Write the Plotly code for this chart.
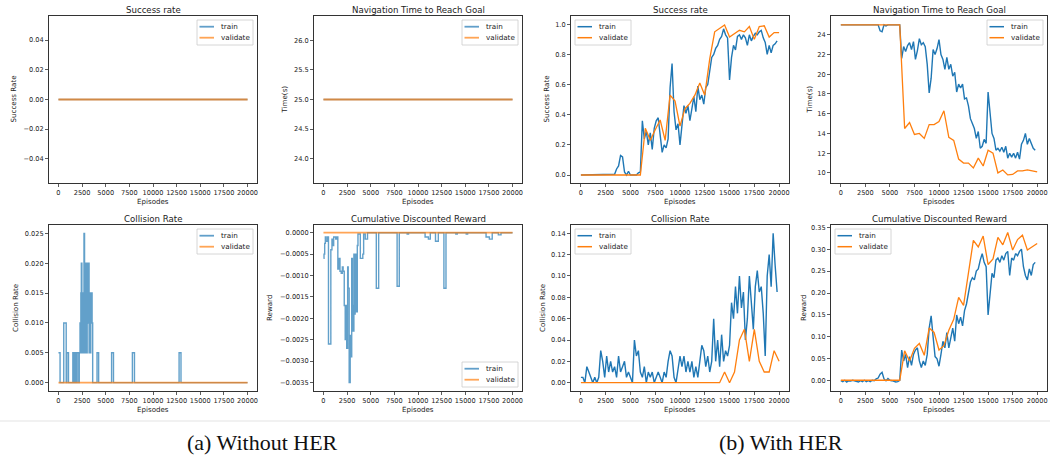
import plotly.graph_objects as go

W, H = 1050, 461

# ---------------- data ----------------
train_x = list(range(0, 20000, 200))
val_x = list(range(0, 20001, 500))
flat_x = [0, 20000]

x_ticks = [0, 2500, 5000, 7500, 10000, 12500, 15000, 17500, 20000]
x_tick_text = ["0", "2500", "5000", "7500", "10000", "12500", "15000", "17500", "20000"]

# (a) Without HER
succ_nohe_train = [0.0, 0.0]
succ_nohe_val = [0.0, 0.0]
nav_nohe_train = [25.0, 25.0]
nav_nohe_val = [25.0, 25.0]
coll_nohe_val = [0.0, 0.0]
rew_nohe_val = [0.0, 0.0]

coll_nohe_train_x = [0, 170, 560, 820, 880, 1060, 1520, 1660, 1780, 1900, 1980, 2150,
                     2200, 2280, 2330, 2370, 2420, 2480, 2520, 2580, 2650, 2700, 2760, 2820,
                     2860, 2920, 2980, 3040, 3120, 3180, 3240, 3300, 3380, 3420, 3560, 3620,
                     4080, 4250, 5620, 5820, 7820, 8040, 12760, 12960, 20000]
coll_nohe_train = [0.005, 0.0, 0.01, 0.0, 0.005, 0.0, 0.005, 0.0, 0.005, 0.0, 0.005, 0.0,
                   0.005, 0.01, 0.005, 0.015, 0.02, 0.005, 0.015, 0.01, 0.005, 0.025, 0.02, 0.005,
                   0.02, 0.015, 0.005, 0.02, 0.01, 0.02, 0.005, 0.015, 0.005, 0.015, 0.01, 0.0,
                   0.005, 0.0, 0.005, 0.0, 0.005, 0.0, 0.005, 0.0, 0.0]

rew_nohe_train_x = [0, 60, 130, 200, 290, 450, 530, 780, 900, 1000, 1080, 1300, 1450, 1520,
                    1660, 1750, 1880, 2000, 2080, 2200, 2300, 2400, 2460, 2560, 2620, 2720,
                    2830, 2900, 2990, 3060, 3130, 3220, 3280, 3350, 3440, 3580, 3650, 3900,
                    4160, 4250, 4420, 4660, 5590, 5840, 7790, 8020, 8850, 9000, 10750, 11100,
                    11300, 11850, 12150, 12740, 12960, 14000, 14150, 15100, 15250, 17200,
                    17550, 17850, 18500, 18780, 20000]
rew_nohe_train = [-0.0006, -0.0005, -0.00025, -0.0001, -0.0002, -0.0001, -0.0026, -0.0004,
                  -0.00015, -0.0003, -0.0001, -0.00015, -0.0001, -0.00085, -0.0006, -0.0009,
                  -0.00095, -0.0008, -0.0009, -0.0017, -0.0025, -0.0017, -0.0027, -0.0008,
                  -0.0013, -0.0035, -0.0024, -0.0029, -0.0006, -0.0017, -0.0023, -0.0005,
                  -0.0019, -0.0005, -0.00185, -0.0003, -0.00003, -0.0006, -0.0005, -0.00003,
                  -0.00015, 0.0, -0.0013, 0.0, -0.00125, 0.0, -0.00003, 0.0, -0.0001, -0.00015,
                  0.0, -0.0002, 0.0, -0.0013, 0.0, -0.00003, 0.0, -0.00003, 0.0, -0.0001,
                  -0.00015, 0.0, -0.00005, 0.0, 0.0]

# (b) With HER
succ_her_train = [0, 0, 0, 0, 0, 0, 0, 0, 0, 0,
                  0, 0, 0, 0, 0, 0, 0, 0.005, 0.04, 0.06,
                  0.13, 0.12, 0.02, 0.0, 0.025, 0.0, 0, 0, 0, 0.015,
                  0.02, 0.36, 0.24, 0.29, 0.20, 0.28, 0.17, 0.31, 0.36, 0.38,
                  0.27, 0.15, 0.20, 0.18, 0.24, 0.58, 0.74, 0.42, 0.30, 0.34,
                  0.20, 0.36, 0.46, 0.41, 0.46, 0.36, 0.44, 0.52, 0.42, 0.59,
                  0.50, 0.53, 0.47, 0.58, 0.60, 0.71, 0.78, 0.80, 0.84, 0.86,
                  0.90, 0.92, 0.97, 0.93, 0.91, 0.63, 0.78, 0.86, 0.83, 0.92,
                  0.93, 0.90, 0.93, 0.91, 0.86, 0.93, 0.89, 0.92, 0.94, 0.93,
                  0.95, 0.96, 0.91, 0.88, 0.80, 0.86, 0.81, 0.86, 0.87, 0.89]
succ_her_val = [0, 0, 0, 0, 0, 0, 0, 0, 0, 0, 0, 0, 0,
                0.31, 0.23, 0.30, 0.365, 0.23, 0.53, 0.49, 0.325, 0.44, 0.475, 0.53, 0.61,
                0.53, 0.77, 0.95, 0.97, 0.995, 0.915, 0.935, 0.96, 0.95, 0.985, 0.90, 0.985,
                0.99, 0.915, 0.945, 0.945]

nav_her_train = [25, 25, 25, 25, 25, 25, 25, 25, 25, 25,
                 25, 25, 25, 25, 25, 25, 25, 25, 25, 25,
                 24.4, 24.3, 25, 24.9, 25, 25, 25, 25, 25, 25,
                 25, 21.6, 22.8, 22.3, 22.9, 23.2, 22.5, 23.3, 21.5, 22.4,
                 23.6, 23.0, 23.2, 22.8, 21.0, 18.1, 19.6, 22.5, 22.0, 22.6,
                 23.5, 22.0, 21.5, 20.5, 21.7, 20.5, 21.0, 19.8, 20.2, 18.2,
                 19.0, 18.6, 19.0, 17.5, 17.6, 16.8, 15.5, 15.0, 14.5, 13.5,
                 14.2, 12.5, 12.7, 13.4, 13.0, 18.2, 16.0, 14.0, 13.5, 12.3,
                 12.5, 12.2, 12.6, 12.1, 12.7, 11.5, 12.0, 11.6, 12.0, 11.5,
                 12.1, 11.4, 12.9, 13.3, 14.0, 12.9, 13.5, 13.0, 12.5, 12.3]
nav_her_val = [25, 25, 25, 25, 25, 25, 25, 25, 25, 25, 25, 25, 25,
               14.5, 15.1, 13.9, 14.0, 13.5, 14.9, 14.9, 15.2, 16.3, 13.6, 13.3, 11.4,
               11.0, 11.0, 10.5, 11.5, 10.7, 12.3, 12.0, 10.0, 10.3, 9.8, 9.85, 10.2,
               10.2, 10.3, 10.2, 10.1]

coll_her_train = [0.005, 0.005, 0.0, 0.015, 0.01, 0.005, 0.0, 0.005, 0.0, 0.005,
                  0.03, 0.02, 0.005, 0.025, 0.01, 0.02, 0.01, 0.015, 0.005, 0.025,
                  0.01, 0.015, 0.02, 0.005, 0.01, 0.005, 0.0, 0.04, 0.025, 0.03,
                  0.01, 0.005, 0.015, 0.0, 0.01, 0.005, 0.01, 0.0, 0.005, 0.01,
                  0.005, 0.0, 0.01, 0.005, 0.02, 0.03, 0.025, 0.005, 0.0, 0.015,
                  0.025, 0.015, 0.025, 0.01, 0.02, 0.01, 0.02, 0.005, 0.015, 0.005,
                  0.02, 0.035, 0.03, 0.015, 0.025, 0.01, 0.02, 0.06, 0.02, 0.04,
                  0.015, 0.045, 0.02, 0.03, 0.025, 0.035, 0.075, 0.06, 0.09, 0.065,
                  0.10, 0.07, 0.085, 0.04, 0.06, 0.10, 0.075, 0.05, 0.09, 0.105,
                  0.085, 0.09, 0.065, 0.025, 0.10, 0.12, 0.09, 0.14, 0.11, 0.085]
coll_her_val = [0, 0, 0, 0, 0, 0, 0, 0, 0, 0, 0, 0, 0, 0, 0, 0, 0, 0, 0, 0,
                0, 0, 0, 0, 0, 0, 0, 0, 0,
                0.01, 0.0, 0.01, 0.04, 0.05, 0.02, 0.05, 0.02, 0.01, 0.01, 0.03, 0.02]

rew_her_train = [0.0, -0.002, 0.001, -0.003, 0.0, -0.001, 0.001, 0.0, -0.001, -0.003,
                 0.0, -0.002, 0.001, -0.002, 0.0, -0.002, 0.001, 0.0, 0.004, 0.006,
                 0.015, 0.019, 0.004, 0.0, 0.005, 0.001, 0.0, -0.002, -0.003, -0.002,
                 0.001, 0.07, 0.045, 0.06, 0.03, 0.055, 0.035, 0.06, 0.07, 0.075,
                 0.045, 0.03, 0.045, 0.035, 0.06, 0.12, 0.148, 0.10, 0.055, 0.05,
                 0.033, 0.06, 0.09, 0.075, 0.11, 0.075, 0.095, 0.12, 0.09, 0.15,
                 0.13, 0.145, 0.125, 0.16, 0.175, 0.20, 0.225, 0.235, 0.23, 0.25,
                 0.255, 0.275, 0.29, 0.27, 0.26, 0.15, 0.205, 0.245, 0.235, 0.275,
                 0.28, 0.27, 0.285, 0.275, 0.29, 0.295, 0.24, 0.28, 0.275, 0.29,
                 0.285, 0.295, 0.30, 0.26, 0.24, 0.23, 0.255, 0.24, 0.265, 0.27]
rew_her_val = [0.001, 0.001, 0.001, 0.001, 0.001, 0.001, 0.001, 0.001, 0.001, 0.001,
               0.001, 0.001, 0.001,
               0.068, 0.045, 0.074, 0.085, 0.058, 0.12, 0.11, 0.07, 0.08, 0.115, 0.14,
               0.19, 0.172, 0.245, 0.32, 0.305, 0.33, 0.265, 0.278, 0.327, 0.31, 0.338,
               0.298, 0.322, 0.332, 0.298, 0.305, 0.313]

# y tick values / labels
yt1 = [-0.04, -0.02, 0.0, 0.02, 0.04]
yt1_text = ["\u22120.04", "\u22120.02", "0.00", "0.02", "0.04"]
yt2 = [24.0, 24.5, 25.0, 25.5, 26.0]
yt2_text = ["24.0", "24.5", "25.0", "25.5", "26.0"]
yt3 = [0.0, 0.2, 0.4, 0.6, 0.8, 1.0]
yt3_text = ["0.0", "0.2", "0.4", "0.6", "0.8", "1.0"]
yt4 = [10, 12, 14, 16, 18, 20, 22, 24]
yt4_text = ["10", "12", "14", "16", "18", "20", "22", "24"]
yt5 = [0.0, 0.005, 0.01, 0.015, 0.02, 0.025]
yt5_text = ["0.000", "0.005", "0.010", "0.015", "0.020", "0.025"]
yt6 = [0.0, -0.0005, -0.001, -0.0015, -0.002, -0.0025, -0.003, -0.0035]
yt6_text = ["0.0000", "\u22120.0005", "\u22120.0010", "\u22120.0015", "\u22120.0020",
            "\u22120.0025", "\u22120.0030", "\u22120.0035"]
yt7 = [0.0, 0.02, 0.04, 0.06, 0.08, 0.10, 0.12, 0.14]
yt7_text = ["0.00", "0.02", "0.04", "0.06", "0.08", "0.10", "0.12", "0.14"]
yt8 = [0.0, 0.05, 0.10, 0.15, 0.20, 0.25, 0.30, 0.35]
yt8_text = ["0.00", "0.05", "0.10", "0.15", "0.20", "0.25", "0.30", "0.35"]

# ---------------- layout helpers ----------------
BLUE = "#1f77b4"
ORANGE = "#ff7f0e"
FONT = "DejaVu Sans"
TXT = "#222222"


def fx(px):
    return px / W


def fy(py):
    return 1 - py / H


panels = [
    dict(box=(49, 257, 16, 183), title="Success rate", ylabel="Success Rate", ylx=13,
         yr=[-0.0563, 0.0563], yt=yt1, ytt=yt1_text, leg="tr", faded=True,
         tr=(flat_x, succ_nohe_train, "linear"), va=(flat_x, succ_nohe_val)),
    dict(box=(314, 522, 16, 183), title="Navigation Time to Reach Goal", ylabel="Time(s)", ylx=284,
         yr=[23.592, 26.408], yt=yt2, ytt=yt2_text, leg="tr", faded=True,
         tr=(flat_x, nav_nohe_train, "linear"), va=(flat_x, nav_nohe_val)),
    dict(box=(571, 789, 16, 183), title="Success rate", ylabel="Success Rate", ylx=546,
         yr=[-0.053, 1.055], yt=yt3, ytt=yt3_text, leg="tl", faded=False,
         tr=(train_x, succ_her_train, "linear"), va=(val_x, succ_her_val)),
    dict(box=(831, 1047, 16, 183), title="Navigation Time to Reach Goal", ylabel="Time(s)", ylx=809,
         yr=[8.98, 25.9], yt=yt4, ytt=yt4_text, leg="tr", faded=False,
         tr=(train_x, nav_her_train, "linear"), va=(val_x, nav_her_val)),
    dict(box=(49, 257, 225, 391), title="Collision Rate", ylabel="Collision Rate", ylx=15,
         yr=[-0.0014, 0.0264], yt=yt5, ytt=yt5_text, leg="tr", faded=True,
         tr=(coll_nohe_train_x, coll_nohe_train, "hv"), va=(flat_x, coll_nohe_val)),
    dict(box=(314, 522, 225, 391), title="Cumulative Discounted Reward", ylabel="Reward", ylx=269,
         yr=[-0.0037, 0.00018], yt=yt6, ytt=yt6_text, leg="br", faded=True,
         tr=(rew_nohe_train_x, rew_nohe_train, "hv"), va=(flat_x, rew_nohe_val)),
    dict(box=(571, 789, 225, 391), title="Collision Rate", ylabel="Collision Rate", ylx=542,
         yr=[-0.0078, 0.1478], yt=yt7, ytt=yt7_text, leg="tl", faded=False,
         tr=(train_x, coll_her_train, "linear"), va=(val_x, coll_her_val)),
    dict(box=(831, 1047, 225, 391), title="Cumulative Discounted Reward", ylabel="Reward", ylx=803,
         yr=[-0.0235, 0.3552], yt=yt8, ytt=yt8_text, leg="tl", faded=False,
         tr=(train_x, rew_her_train, "linear"), va=(val_x, rew_her_val)),
]

fig = go.Figure()
shapes = []
annotations = []
layout_axes = {}

for i, p in enumerate(panels, start=1):
    x0, x1, y0, y1 = p["box"]
    xa = "x" if i == 1 else f"x{i}"
    ya = "y" if i == 1 else f"y{i}"
    op = 0.7 if p["faded"] else 1.0
    tx, ty, shape = p["tr"]
    fig.add_trace(go.Scatter(x=tx, y=ty, mode="lines", line=dict(color=BLUE, width=1.4, shape=shape),
                             opacity=op, xaxis=xa, yaxis=ya, showlegend=False, name="train"))
    vx, vy = p["va"]
    fig.add_trace(go.Scatter(x=vx, y=vy, mode="lines", line=dict(color=ORANGE, width=1.3 if not p["faded"] else 1.8),
                             opacity=op, xaxis=xa, yaxis=ya, showlegend=False, name="validate"))
    common = dict(showline=True, mirror=True, linecolor="#333333", linewidth=1, showgrid=False,
                  zeroline=False, ticks="outside", ticklen=3, tickwidth=0.8, tickcolor="#333333",
                  tickfont=dict(family=FONT, size=6.6, color=TXT))
    layout_axes["xaxis" if i == 1 else f"xaxis{i}"] = dict(
        domain=[fx(x0), fx(x1)], anchor=ya, range=[-1000, 21000],
        tickmode="array", tickvals=x_ticks, ticktext=x_tick_text, **common)
    layout_axes["yaxis" if i == 1 else f"yaxis{i}"] = dict(
        domain=[fy(y1), fy(y0)], anchor=xa, range=p["yr"],
        tickmode="array", tickvals=p["yt"], ticktext=p["ytt"], **common)

    cx = (x0 + x1) / 2
    annotations.append(dict(x=fx(cx), y=fy(y0 - 6), xref="paper", yref="paper", text=p["title"],
                            showarrow=False, xanchor="center", yanchor="middle",
                            font=dict(family=FONT, size=8.6, color=TXT)))
    annotations.append(dict(x=fx(cx), y=fy(y1 + 18), xref="paper", yref="paper", text="Episodes",
                            showarrow=False, xanchor="center", yanchor="middle",
                            font=dict(family=FONT, size=7.1, color=TXT)))
    annotations.append(dict(x=fx(p["ylx"]), y=fy((y0 + y1) / 2), xref="paper", yref="paper",
                            text=p["ylabel"], textangle=-90, showarrow=False,
                            xanchor="center", yanchor="middle",
                            font=dict(family=FONT, size=7.1, color=TXT)))

    # legend box
    lw, lh, inset = 56, 25, 4
    if p["leg"] == "tr":
        lx, ly = x1 - inset - lw, y0 + inset
    elif p["leg"] == "tl":
        lx, ly = x0 + inset, y0 + inset
    else:
        lx, ly = x1 - inset - lw, y1 - inset - lh
    shapes.append(dict(type="rect", xref="paper", yref="paper", x0=fx(lx), x1=fx(lx + lw),
                       y0=fy(ly + lh), y1=fy(ly), line=dict(color="#cccccc", width=0.8),
                       fillcolor="rgba(255,255,255,0.85)", layer="above"))
    for k, (col, label) in enumerate([(BLUE, "train"), (ORANGE, "validate")]):
        yy = ly + 6.7 + 11 * k
        shapes.append(dict(type="line", xref="paper", yref="paper", x0=fx(lx + 2.5), x1=fx(lx + 17),
                           y0=fy(yy), y1=fy(yy), opacity=op, layer="above",
                           line=dict(color=col, width=1.5 if not p["faded"] else 1.8)))
        annotations.append(dict(x=fx(lx + 22), y=fy(yy), xref="paper", yref="paper", text=label,
                                showarrow=False, xanchor="left", yanchor="middle",
                                font=dict(family=FONT, size=7.2, color=TXT)))

# separator and captions
shapes.append(dict(type="line", xref="paper", yref="paper", x0=0, x1=1, y0=fy(421), y1=fy(421),
                   line=dict(color="#e3e3e3", width=1)))
annotations.append(dict(x=fx(262), y=fy(442), xref="paper", yref="paper", text="(a) Without HER",
                        showarrow=False, xanchor="center", yanchor="middle",
                        font=dict(family="Liberation Serif", size=22, color="#111111")))
annotations.append(dict(x=fx(781), y=fy(442), xref="paper", yref="paper", text="(b) With HER",
                        showarrow=False, xanchor="center", yanchor="middle",
                        font=dict(family="Liberation Serif", size=22, color="#111111")))

fig.update_layout(width=W, height=H, margin=dict(l=0, r=0, t=0, b=0),
                  paper_bgcolor="white", plot_bgcolor="white", showlegend=False,
                  hovermode=False,
                  shapes=shapes, annotations=annotations, **layout_axes)

fig.write_html("out.html", config={"displayModeBar": False, "staticPlot": True},
               post_script="document.body.style.margin='0px';document.body.style.overflow='hidden';")
